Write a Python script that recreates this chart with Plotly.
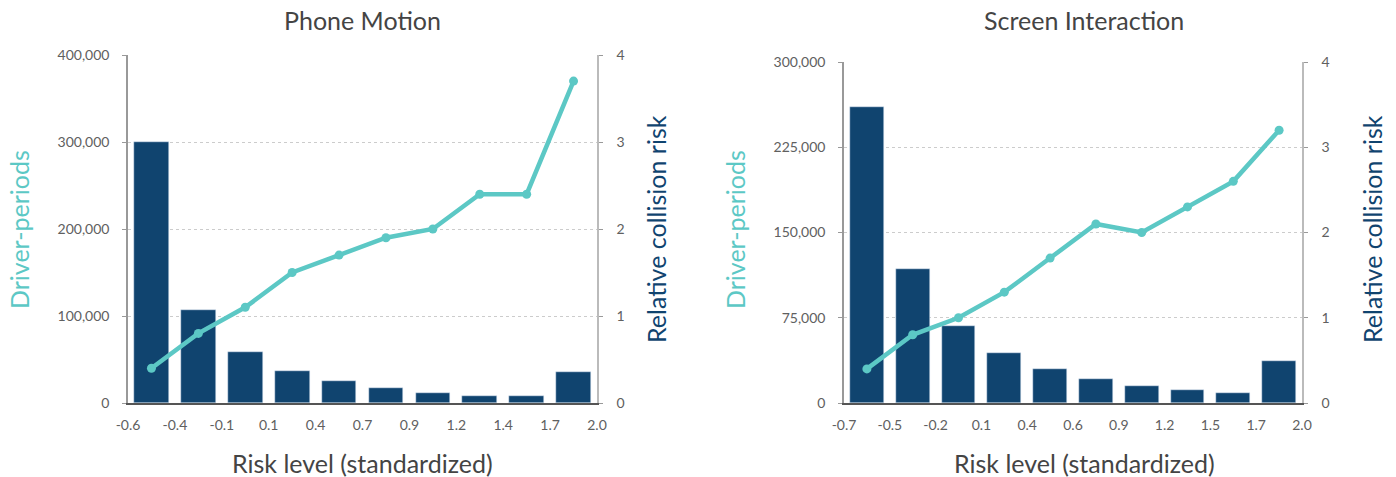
import plotly.graph_objects as go

# ---- data ----
pm_ticks = ["-0.6", "-0.4", "-0.1", "0.1", "0.4", "0.7", "0.9", "1.2", "1.4", "1.7", "2.0"]
pm_periods = [300000, 107000, 59000, 37000, 25000, 17000, 12000, 8500, 7500, 36000]
pm_risk = [0.4, 0.8, 1.1, 1.5, 1.7, 1.9, 2.0, 2.4, 2.4, 3.7]

si_ticks = ["-0.7", "-0.5", "-0.2", "0.1", "0.4", "0.6", "0.9", "1.2", "1.5", "1.7", "2.0"]
si_periods = [260000, 118000, 68000, 44000, 30000, 21000, 15000, 11500, 9000, 37000]
si_risk = [0.4, 0.8, 1.0, 1.3, 1.7, 2.1, 2.0, 2.3, 2.6, 3.2]

titles = ["Phone Motion", "Screen Interaction"]
x_title = "Risk level (standardized)"
y_left_title = "Driver-periods"
y_right_title = "Relative collision risk"

BAR = "#10446F"
LINE = "#5CC8C5"
FONT = "Lato, 'Open Sans', sans-serif"
TICKC = "#606060"
W, H = 1396, 477

fig = go.Figure()

panels = [
    dict(ticks=pm_ticks, bars=pm_periods, risk=pm_risk, x0=128, x1=597, ytop=55,
         ymax=400000, ydtick=100000, title=titles[0], cx=362, ylx=19, yrx=656),
    dict(ticks=si_ticks, bars=si_periods, risk=si_risk, x0=844, x1=1302, ytop=62,
         ymax=300000, ydtick=75000, title=titles[1], cx=1084, ylx=735, yrx=1372),
]
ybot = 403

def ann(text, xpx, ypx, size, color, angle=0):
    fig.add_annotation(text=text, x=xpx / W, y=1 - ypx / H, xref="paper", yref="paper",
                       xanchor="center", yanchor="middle", showarrow=False,
                       textangle=angle, font=dict(family=FONT, size=size, color=color))

for i, p in enumerate(panels):
    n = i + 1
    xa = "x" if n == 1 else f"x{n}"
    ya_b = "y" if n == 1 else f"y{2*n-1}"
    ya_l = f"y{2*n}"
    centers = [k + 0.5 for k in range(len(p["bars"]))]
    fig.add_trace(go.Bar(x=centers, y=p["bars"], marker_color=BAR, width=0.74,
                         xaxis=xa, yaxis=ya_b, showlegend=False))
    fig.add_trace(go.Scatter(x=centers, y=p["risk"], mode="lines+markers",
                             line=dict(color=LINE, width=4.5), marker=dict(color=LINE, size=9),
                             xaxis=xa, yaxis=ya_l, showlegend=False))
    xd = [p["x0"] / W, p["x1"] / W]
    yd = [(H - ybot) / H, (H - p["ytop"]) / H]
    xkey = "xaxis" if n == 1 else f"xaxis{n}"
    ybkey = "yaxis" if n == 1 else f"yaxis{2*n-1}"
    ylkey = f"yaxis{2*n}"
    fig.layout[xkey] = dict(domain=xd, anchor=ya_b, automargin=False,
                            range=[0, 10], tickmode="array", tickvals=list(range(11)),
                            ticktext=p["ticks"], showgrid=False, zeroline=False,
                            showline=True, linecolor="#555555", linewidth=1.5,
                            ticks="", ticklabelstandoff=8,
                            tickfont=dict(family=FONT, size=14, color=TICKC))
    fig.layout[ybkey] = dict(domain=yd, anchor=xa, automargin=False,
                             range=[0, p["ymax"]], dtick=p["ydtick"],
                             tickformat=",d", showgrid=True, gridcolor="#cccccc",
                             griddash="dot", gridwidth=1, zeroline=False,
                             showline=True, linecolor="#999999", linewidth=1.5,
                             ticks="outside", ticklen=4, tickcolor="#999999",
                             ticklabelstandoff=10,
                             tickfont=dict(family=FONT, size=14, color=TICKC))
    fig.layout[ylkey] = dict(domain=yd, anchor=xa, overlaying=ya_b, side="right",
                             automargin=False,
                             range=[0, 4], dtick=1, showgrid=False, zeroline=False,
                             showline=True, linecolor="#bbbbbb", linewidth=1.5,
                             ticks="outside", ticklen=4, tickcolor="#999999",
                             ticklabelstandoff=11,
                             tickfont=dict(family=FONT, size=14, color=TICKC))
    ann(p["title"], p["cx"], 20, 25, "#444444")
    ann(x_title, p["cx"], 463, 25, "#444444")
    ann(y_left_title, p["ylx"], 230, 25, LINE, -90)
    ann(y_right_title, p["yrx"], 229, 25, BAR, -90)

fig.update_layout(width=W, height=H,
                  margin=dict(l=0, r=0, t=0, b=0, pad=0, autoexpand=False),
                  paper_bgcolor="white", plot_bgcolor="white", bargap=0)
fig.write_html("out.html")
